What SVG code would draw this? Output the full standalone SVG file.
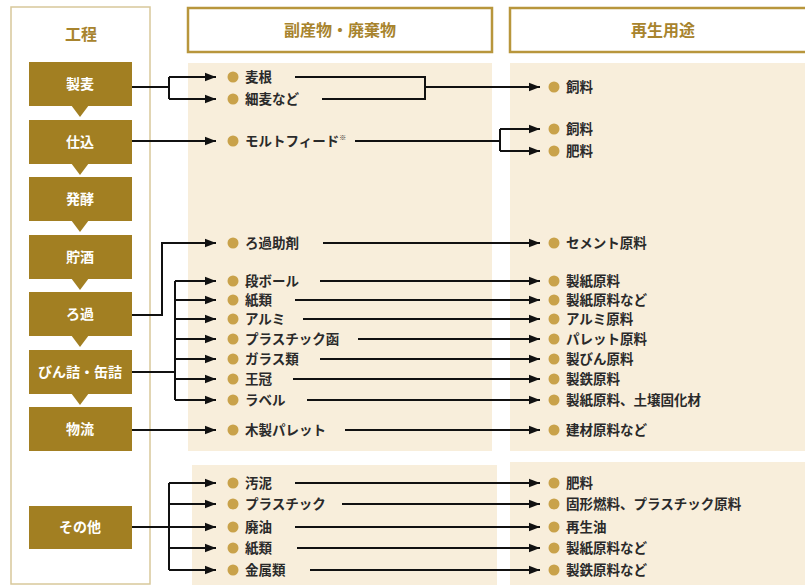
<svg xmlns="http://www.w3.org/2000/svg" width="805" height="585" viewBox="0 0 805 585">
<defs>
<style>
.panel{fill:#f8eedb}
.hdr{fill:#fff;stroke:#b8963c;stroke-width:2.5}
.htxt{font-family:"Noto Sans CJK JP","Noto Sans",sans-serif;font-size:16px;font-weight:bold;fill:#a8842e;text-anchor:middle}
.box{fill:#a27f22}
.btxt{font-family:"Noto Sans CJK JP","Noto Sans",sans-serif;font-size:14px;font-weight:bold;fill:#fff;text-anchor:middle}
.dot{fill:#c9a24a}
.itxt{font-family:"Noto Sans CJK JP","Noto Sans",sans-serif;font-size:13.5px;font-weight:bold;fill:#2a2a2a}
.ln{fill:none;stroke:#111;stroke-width:2}
</style>
<marker id="arr" viewBox="0 0 10 10" refX="10" refY="5" markerWidth="5.5" markerHeight="5.5" markerUnits="strokeWidth" orient="auto">
<path d="M0,1.2 L10,5 L0,8.8 Z" fill="#111"/>
</marker>
</defs>

<g id="backgrounds">
<rect x="11" y="7" width="139" height="577" fill="#fff" stroke="#d8c89a" stroke-width="1.5"/>
<rect class="panel" x="188" y="63" width="304" height="388"/>
<rect class="panel" x="192" y="465" width="305" height="125"/>
<rect class="panel" x="510" y="63" width="300" height="388"/>
<rect class="panel" x="510" y="462" width="300" height="128"/>
</g>

<g id="headers">
<text class="htxt" x="81" y="40">工程</text>
<rect class="hdr" x="188" y="8" width="304" height="44"/>
<text class="htxt" x="340" y="36">副産物・廃棄物</text>
<rect class="hdr" x="510" y="8" width="310" height="44"/>
<text class="htxt" x="663" y="36">再生用途</text>
</g>

<g id="process">
<g id="p-seibaku"><rect class="box" x="29" y="62" width="103" height="44"/><polygon class="box" points="71,105 89,105 80,117"/><text class="btxt" x="80" y="89">製麦</text></g>
<g id="p-shikomi"><rect class="box" x="29" y="120" width="103" height="44"/><polygon class="box" points="71,163 89,163 80,175"/><text class="btxt" x="80" y="147">仕込</text></g>
<g id="p-hakko"><rect class="box" x="29" y="177" width="103" height="44"/><polygon class="box" points="71,220 89,220 80,232"/><text class="btxt" x="80" y="204">発酵</text></g>
<g id="p-chosyu"><rect class="box" x="29" y="235" width="103" height="44"/><polygon class="box" points="71,278 89,278 80,290"/><text class="btxt" x="80" y="262">貯酒</text></g>
<g id="p-roka"><rect class="box" x="29" y="292" width="103" height="44"/><polygon class="box" points="71,335 89,335 80,347"/><text class="btxt" x="80" y="319">ろ過</text></g>
<g id="p-binzume"><rect class="box" x="29" y="350" width="103" height="44"/><polygon class="box" points="71,393 89,393 80,405"/><text class="btxt" x="80" y="377">びん詰・缶詰</text></g>
<g id="p-butsuryu"><rect class="box" x="29" y="407" width="103" height="44"/><text class="btxt" x="80" y="434">物流</text></g>
<g id="p-sonota"><rect class="box" x="29" y="506" width="103" height="43"/><text class="btxt" x="80" y="532">その他</text></g>
</g>

<g id="byproducts">
<g id="b1"><circle class="dot" cx="233" cy="77" r="5.5"/><text class="itxt" x="245" y="82">麦根</text></g>
<g id="b2"><circle class="dot" cx="233" cy="99" r="5.5"/><text class="itxt" x="245" y="104">細麦など</text></g>
<g id="b3"><circle class="dot" cx="233" cy="141" r="5.5"/><text class="itxt" x="245" y="146">モルトフィード<tspan font-size="7" dy="-6">※</tspan></text></g>
<g id="b4"><circle class="dot" cx="233" cy="243" r="5.5"/><text class="itxt" x="245" y="248">ろ過助剤</text></g>
<g id="b5"><circle class="dot" cx="233" cy="281" r="5.5"/><text class="itxt" x="245" y="286">段ボール</text></g>
<g id="b6"><circle class="dot" cx="233" cy="300" r="5.5"/><text class="itxt" x="245" y="305">紙類</text></g>
<g id="b7"><circle class="dot" cx="233" cy="319" r="5.5"/><text class="itxt" x="245" y="324">アルミ</text></g>
<g id="b8"><circle class="dot" cx="233" cy="339" r="5.5"/><text class="itxt" x="245" y="344">プラスチック函</text></g>
<g id="b9"><circle class="dot" cx="233" cy="359" r="5.5"/><text class="itxt" x="245" y="364">ガラス類</text></g>
<g id="b10"><circle class="dot" cx="233" cy="379" r="5.5"/><text class="itxt" x="245" y="384">王冠</text></g>
<g id="b11"><circle class="dot" cx="233" cy="400" r="5.5"/><text class="itxt" x="245" y="405">ラベル</text></g>
<g id="b12"><circle class="dot" cx="233" cy="430" r="5.5"/><text class="itxt" x="245" y="435">木製パレット</text></g>
<g id="b13"><circle class="dot" cx="233" cy="483" r="5.5"/><text class="itxt" x="245" y="488">汚泥</text></g>
<g id="b14"><circle class="dot" cx="233" cy="504" r="5.5"/><text class="itxt" x="245" y="509">プラスチック</text></g>
<g id="b15"><circle class="dot" cx="233" cy="527" r="5.5"/><text class="itxt" x="245" y="532">廃油</text></g>
<g id="b16"><circle class="dot" cx="233" cy="548" r="5.5"/><text class="itxt" x="245" y="553">紙類</text></g>
<g id="b17"><circle class="dot" cx="233" cy="570" r="5.5"/><text class="itxt" x="245" y="575">金属類</text></g>
</g>

<g id="uses">
<g id="u1"><circle class="dot" cx="554" cy="87" r="5.5"/><text class="itxt" x="566" y="92">飼料</text></g>
<g id="u2"><circle class="dot" cx="554" cy="129" r="5.5"/><text class="itxt" x="566" y="134">飼料</text></g>
<g id="u3"><circle class="dot" cx="554" cy="151" r="5.5"/><text class="itxt" x="566" y="156">肥料</text></g>
<g id="u4"><circle class="dot" cx="554" cy="243" r="5.5"/><text class="itxt" x="566" y="248">セメント原料</text></g>
<g id="u5"><circle class="dot" cx="554" cy="281" r="5.5"/><text class="itxt" x="566" y="286">製紙原料</text></g>
<g id="u6"><circle class="dot" cx="554" cy="300" r="5.5"/><text class="itxt" x="566" y="305">製紙原料など</text></g>
<g id="u7"><circle class="dot" cx="554" cy="319" r="5.5"/><text class="itxt" x="566" y="324">アルミ原料</text></g>
<g id="u8"><circle class="dot" cx="554" cy="339" r="5.5"/><text class="itxt" x="566" y="344">パレット原料</text></g>
<g id="u9"><circle class="dot" cx="554" cy="359" r="5.5"/><text class="itxt" x="566" y="364">製びん原料</text></g>
<g id="u10"><circle class="dot" cx="554" cy="379" r="5.5"/><text class="itxt" x="566" y="384">製鉄原料</text></g>
<g id="u11"><circle class="dot" cx="554" cy="400" r="5.5"/><text class="itxt" x="566" y="405">製紙原料、土壌固化材</text></g>
<g id="u12"><circle class="dot" cx="554" cy="430" r="5.5"/><text class="itxt" x="566" y="435">建材原料など</text></g>
<g id="u13"><circle class="dot" cx="554" cy="483" r="5.5"/><text class="itxt" x="566" y="488">肥料</text></g>
<g id="u14"><circle class="dot" cx="554" cy="504" r="5.5"/><text class="itxt" x="566" y="509">固形燃料、プラスチック原料</text></g>
<g id="u15"><circle class="dot" cx="554" cy="527" r="5.5"/><text class="itxt" x="566" y="532">再生油</text></g>
<g id="u16"><circle class="dot" cx="554" cy="548" r="5.5"/><text class="itxt" x="566" y="553">製紙原料など</text></g>
<g id="u17"><circle class="dot" cx="554" cy="570" r="5.5"/><text class="itxt" x="566" y="575">製鉄原料など</text></g>
</g>

<g id="connectors">
<path class="ln" d="M132,87 H169"/>
<path class="ln" d="M169,77 V99"/>
<path class="ln" d="M169,77 H216" marker-end="url(#arr)"/>
<path class="ln" d="M169,99 H216" marker-end="url(#arr)"/>
<path class="ln" d="M132,141 H216" marker-end="url(#arr)"/>
<path class="ln" d="M132,315 H162 V243 H216" marker-end="url(#arr)"/>
<path class="ln" d="M132,372 H175"/>
<path class="ln" d="M175,281 V400"/>
<path class="ln" d="M175,281 H216" marker-end="url(#arr)"/>
<path class="ln" d="M175,300 H216" marker-end="url(#arr)"/>
<path class="ln" d="M175,319 H216" marker-end="url(#arr)"/>
<path class="ln" d="M175,339 H216" marker-end="url(#arr)"/>
<path class="ln" d="M175,359 H216" marker-end="url(#arr)"/>
<path class="ln" d="M175,379 H216" marker-end="url(#arr)"/>
<path class="ln" d="M175,400 H216" marker-end="url(#arr)"/>
<path class="ln" d="M132,430 H216" marker-end="url(#arr)"/>
<path class="ln" d="M132,527 H216" marker-end="url(#arr)"/>
<path class="ln" d="M169,483 V570"/>
<path class="ln" d="M169,483 H216" marker-end="url(#arr)"/>
<path class="ln" d="M169,504 H216" marker-end="url(#arr)"/>
<path class="ln" d="M169,548 H216" marker-end="url(#arr)"/>
<path class="ln" d="M169,570 H216" marker-end="url(#arr)"/>
<path class="ln" d="M295,77 H425 V99 H322"/>
<path class="ln" d="M425,87 H540" marker-end="url(#arr)"/>
<path class="ln" d="M355,141 H500"/>
<path class="ln" d="M500,129 V151"/>
<path class="ln" d="M500,129 H540" marker-end="url(#arr)"/>
<path class="ln" d="M500,151 H540" marker-end="url(#arr)"/>
<path class="ln" d="M323,243 H540" marker-end="url(#arr)"/>
<path class="ln" d="M320,281 H540" marker-end="url(#arr)"/>
<path class="ln" d="M295,300 H540" marker-end="url(#arr)"/>
<path class="ln" d="M303,319 H540" marker-end="url(#arr)"/>
<path class="ln" d="M358,339 H540" marker-end="url(#arr)"/>
<path class="ln" d="M320,359 H540" marker-end="url(#arr)"/>
<path class="ln" d="M293,379 H540" marker-end="url(#arr)"/>
<path class="ln" d="M307,400 H540" marker-end="url(#arr)"/>
<path class="ln" d="M345,430 H540" marker-end="url(#arr)"/>
<path class="ln" d="M295,483 H540" marker-end="url(#arr)"/>
<path class="ln" d="M342,504 H540" marker-end="url(#arr)"/>
<path class="ln" d="M295,527 H540" marker-end="url(#arr)"/>
<path class="ln" d="M297,548 H540" marker-end="url(#arr)"/>
<path class="ln" d="M310,570 H540" marker-end="url(#arr)"/>
</g>
</svg>
